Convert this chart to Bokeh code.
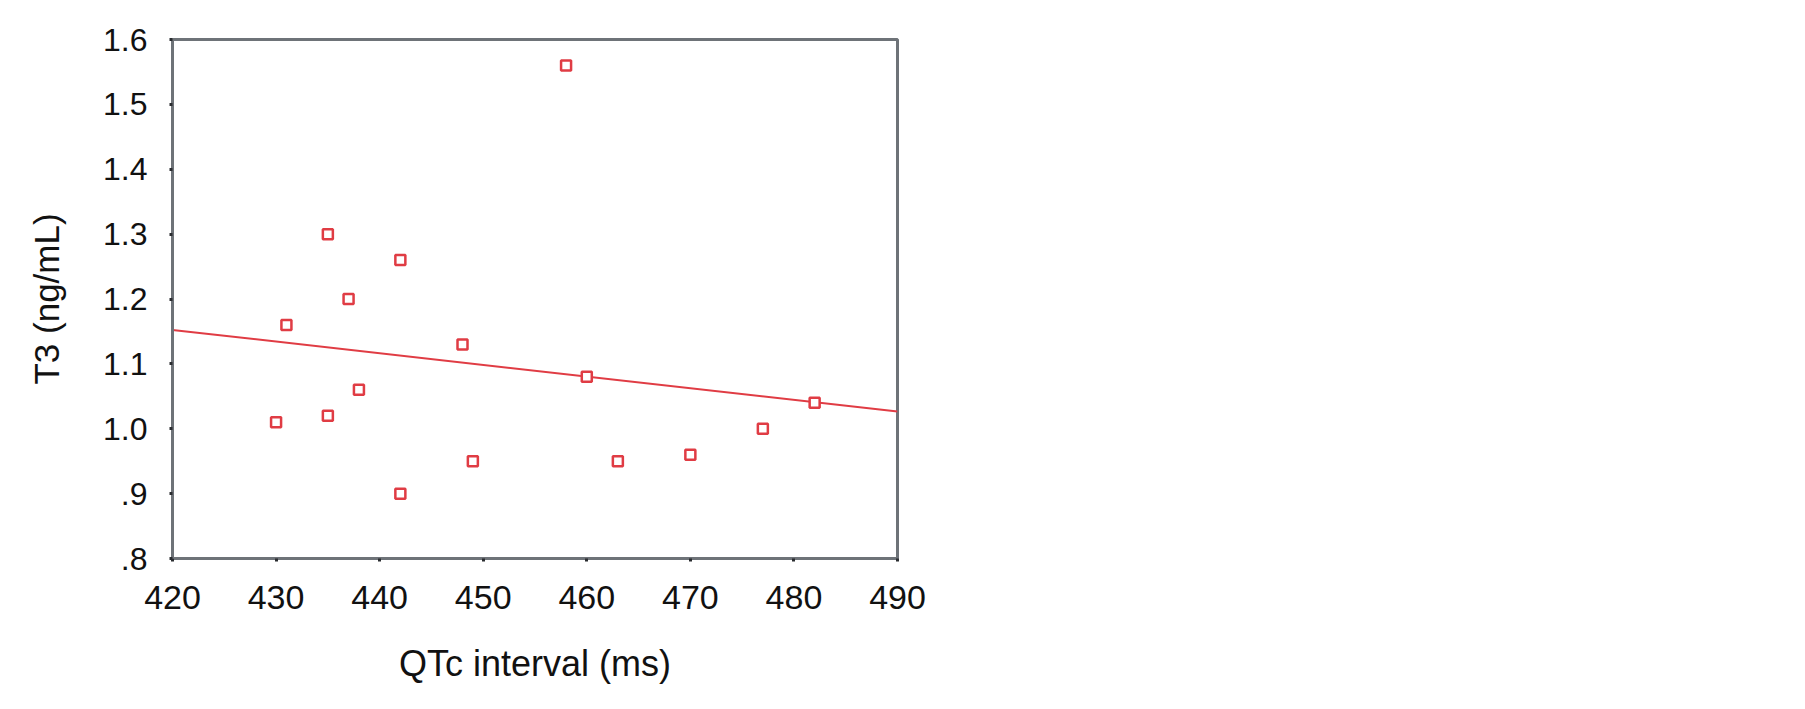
import numpy as np
from bokeh.plotting import figure
from bokeh.embed import file_html
from bokeh.resources import INLINE
from bokeh.models import FixedTicker

# Data
qtc = [458, 435, 442, 437, 431, 448, 460, 438, 482, 430, 435, 477, 449, 463, 470, 442]
t3 = [1.56, 1.30, 1.26, 1.20, 1.16, 1.13, 1.08, 1.06, 1.04, 1.01, 1.02, 1.00, 0.95, 0.95, 0.96, 0.90]
x_ticks = [420, 430, 440, 450, 460, 470, 480, 490]
y_ticks = [0.8, 0.9, 1.0, 1.1, 1.2, 1.3, 1.4, 1.5, 1.6]
y_tick_labels = {0.8: ".8", 0.9: ".9", 1.0: "1.0", 1.1: "1.1", 1.2: "1.2",
                 1.3: "1.3", 1.4: "1.4", 1.5: "1.5", 1.6: "1.6"}
x_range = (420, 490)
y_range = (0.8, 1.6)

# Least-squares fit line
slope, intercept = np.polyfit(qtc, t3, 1)
fit_x = list(x_range)
fit_y = [slope * v + intercept for v in fit_x]

FONT = "Liberation Sans"
AXIS_COLOR = "#6e7378"
RED = "#e03c44"

p = figure(frame_width=725, frame_height=519,
           min_border_left=172, min_border_right=892,
           min_border_top=39, min_border_bottom=135,
           x_range=x_range, y_range=y_range,
           output_backend="svg", toolbar_location=None)

p.outline_line_color = AXIS_COLOR
p.outline_line_width = 3
p.xgrid.visible = False
p.ygrid.visible = False
p.background_fill_color = "white"
p.border_fill_color = "white"

p.line(fit_x, fit_y, line_color=RED, line_width=2)
p.scatter(qtc, t3, marker="square", size=10, fill_color="white",
          line_color=RED, line_width=2.5)

for ax in (p.xaxis[0], p.yaxis[0]):
    ax.axis_line_color = AXIS_COLOR
    ax.axis_line_width = 3
    ax.major_tick_line_color = "#2a2d30"
    ax.major_tick_line_width = 3
    ax.major_tick_in = 0
    ax.major_tick_out = 3
    ax.minor_tick_line_color = None
    ax.major_label_text_font = FONT
    ax.major_label_text_color = "#111111"
    ax.axis_label_text_font = FONT
    ax.axis_label_text_font_style = "normal"
    ax.axis_label_text_color = "#111111"

p.xaxis.ticker = FixedTicker(ticks=x_ticks)
p.yaxis.ticker = FixedTicker(ticks=y_ticks)
p.yaxis.major_label_overrides = y_tick_labels

p.xaxis.major_label_text_font_size = "34px"
p.yaxis.major_label_text_font_size = "32px"
p.xaxis.major_label_standoff = 24
p.yaxis.major_label_standoff = 22

p.xaxis.axis_label = "QTc interval (ms)"
p.yaxis.axis_label = "T3 (ng/mL)"
p.xaxis.axis_label_text_font_size = "36px"
p.yaxis.axis_label_text_font_size = "35px"
p.xaxis.axis_label_standoff = 31
p.yaxis.axis_label_standoff = 34

open("out.html", "w").write(file_html(p, INLINE))
